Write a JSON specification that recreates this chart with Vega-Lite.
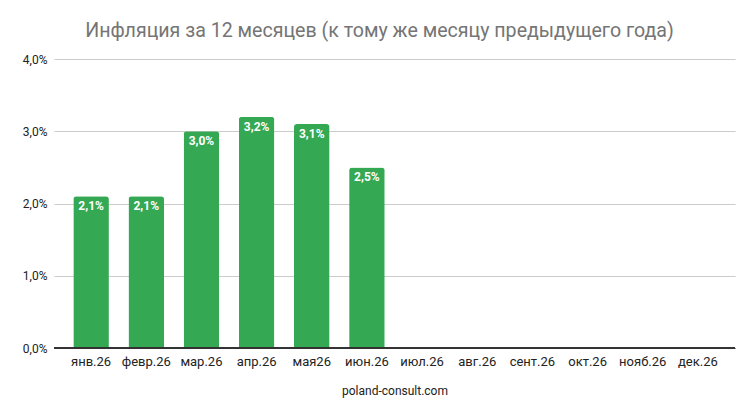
{
  "$schema": "https://vega.github.io/schema/vega-lite/v6.json",
  "autosize": {"type": "none"},
  "width": 681,
  "height": 289,
  "padding": {"left": 54, "top": 59, "right": 15, "bottom": 63},
  "background": "white",
  "config": {"font": "Roboto", "view": {"stroke": null},
    "locale": {"number": {"decimal": ",", "thousands": " ", "grouping": [3], "currency": ["", ""]}}},
  "title": {"text": "Инфляция за 12 месяцев (к тому же месяцу предыдущего года)", "fontSize": 19.6, "fontWeight": "normal", "color": "#757575", "anchor": "middle", "offset": 11, "dx": -15, "font": "Roboto"},
  "data": {"values": [
    {"month": "янв.26", "value": 0.021},
    {"month": "февр.26", "value": 0.021},
    {"month": "мар.26", "value": 0.030},
    {"month": "апр.26", "value": 0.032},
    {"month": "мая26", "value": 0.031},
    {"month": "июн.26", "value": 0.025},
    {"month": "июл.26", "value": null},
    {"month": "авг.26", "value": null},
    {"month": "сент.26", "value": null},
    {"month": "окт.26", "value": null},
    {"month": "нояб.26", "value": null},
    {"month": "дек.26", "value": null}
  ]},
  "encoding": {
    "x": {"field": "month", "type": "nominal", "sort": null,
      "scale": {"domain": ["янв.26", "февр.26", "мар.26", "апр.26", "мая26", "июн.26", "июл.26", "авг.26", "сент.26", "окт.26", "нояб.26", "дек.26"], "paddingInner": 0.355, "paddingOuter": 0.35},
      "axis": {"title": "poland-consult.com", "titleFontSize": 12, "titleFontWeight": "normal", "titleColor": "#222", "titlePadding": 17, "labelAngle": 0, "labelFontSize": 13, "labelColor": "#222", "labelPadding": 7, "ticks": false, "domainColor": "#333", "domainWidth": 1}},
    "y": {"field": "value", "type": "quantitative",
      "scale": {"domain": [0, 0.04], "nice": false},
      "axis": {"title": null, "values": [0, 0.01, 0.02, 0.03, 0.04], "format": ".1%", "labelFontSize": 12, "labelColor": "#222", "labelPadding": 7, "ticks": false, "domain": false, "gridColor": "#cccccc"}}
  },
  "layer": [
    {"transform": [{"filter": "datum.value != null"}],
     "mark": {"type": "bar", "color": "#34a853", "cornerRadiusTopLeft": 3, "cornerRadiusTopRight": 3}},
    {"transform": [{"filter": "datum.value != null"}],
     "mark": {"type": "text", "color": "white", "fontWeight": "bold", "fontSize": 12, "baseline": "top", "dy": 5},
     "encoding": {"text": {"field": "value", "type": "quantitative", "format": ".1%"}}},
    {"mark": {"type": "rule", "color": "#333"}, "encoding": {"y": {"datum": 0}, "x": null}}
  ]
}
